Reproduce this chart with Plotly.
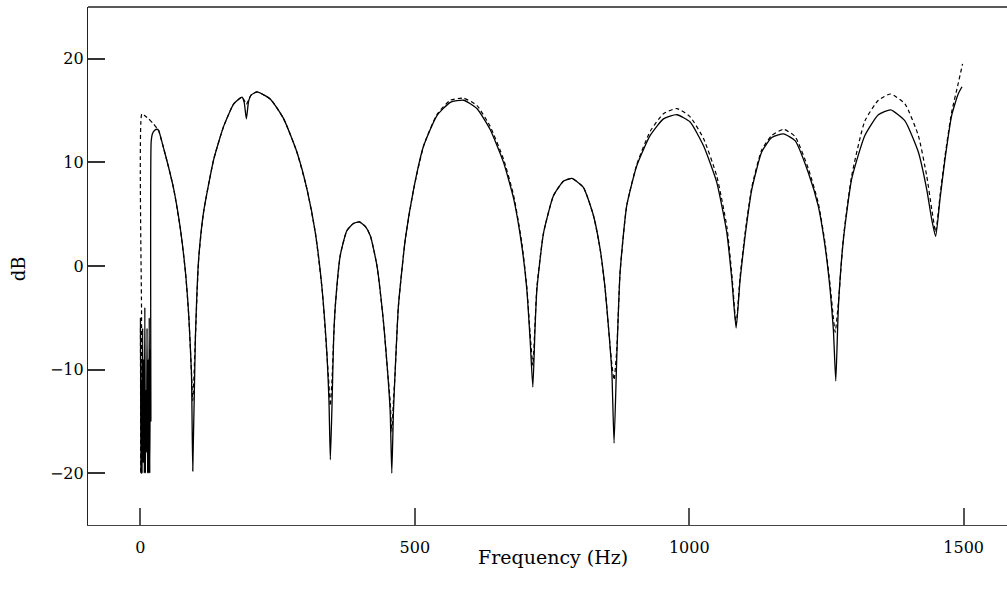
import plotly.graph_objects as go

# Frequency (Hz) and level (dB)
solid_hz = [0, 1, 2, 3, 4, 5, 6, 7, 8, 9, 10, 11, 12, 13, 14, 15, 16, 17, 18, 19, 19.5,
            22, 26, 30, 33, 42.5, 50, 60.7, 72.8, 82, 88, 92.9, 95.3, 100, 106, 115,
            133.5, 151.7, 170, 185, 189, 193, 197, 201.5, 212.5, 236.8, 261, 285, 303.5,
            318.7, 331, 340, 343.5, 346, 349, 352, 355, 364, 376, 388, 399, 410, 419,
            431, 443, 450.5, 455, 458, 461, 464, 470, 482.6, 497.7, 516, 540, 564.6,
            588.8, 613, 637, 661.6, 680, 695, 704, 710, 715, 719, 722.4, 734.5, 752.7,
            771, 786, 807, 825.5, 837.7, 846.8, 854.7, 859, 863, 868, 874, 886, 904.5,
            928.8, 953, 977.4, 1001.6, 1026, 1050, 1068.5, 1077.6, 1085.4, 1092.7,
            1102, 1114, 1132, 1150.4, 1171.6, 1192.8, 1217, 1235, 1247.5, 1256.6,
            1262.6, 1267, 1271.8, 1281, 1296, 1320, 1344.6, 1367, 1393, 1417.4,
            1432.7, 1441.8, 1449, 1457, 1466, 1478, 1490, 1497]
solid_db = [-5, -20, -11, -20, -6, -19, -9, -20, -4, -20, -12, -18, -6, -20, -9, -20, -5, -20, -8, -15, 12.0,
            12.8, 13.1, 13.2, 13.1, 11.3, 9.8, 7.4, 3.55, -0.6, -4.8, -10.3, -19.8, -7.1, 0.65, 5.2,
            10.3, 13.5, 15.65, 16.3, 15.8, 14.2, 15.9, 16.5, 16.8, 16.1, 14.2, 11.0, 7.4,
            3.2, -2.25, -8.7, -13.0, -18.7, -13.5, -7.0, -3.9, 1.0, 3.4, 4.1, 4.26, 3.8, 2.9,
            0.0, -5.5, -10.3, -14.0, -20.0, -14.0, -10.3, -3.9, 2.6, 7.4, 11.6, 14.5, 15.8,
            16.0, 15.2, 13.2, 10.0, 6.5, 1.9, -2.25, -7.1, -11.7, -6.0, -2.25, 3.2, 6.8,
            8.2, 8.45, 7.6, 4.85, 1.6, -2.25, -7.1, -10.3, -17.1, -8.7, -0.6, 5.8, 9.7,
            12.6, 14.2, 14.6, 13.9, 11.6, 8.1, 3.2, -1.3, -6.0, -1.3,
            3.0, 7.4, 11.0, 12.4, 12.75, 12.1, 9.0, 5.8, 1.9, -2.25,
            -6.1, -11.1, -3.9, 2.6, 8.4, 12.6, 14.6, 15.07, 14.0, 11.0,
            7.4, 4.5, 2.85, 6.5, 10.3, 14.5, 16.6, 17.3]

dashed_hz = [0, 0.5, 1, 1.5, 2, 2.5, 8, 15, 24, 30, 33, 42.5, 50, 60.7, 72.8, 82, 88, 92.9,
             95.3, 100, 106, 115, 133.5, 151.7, 170, 185, 189, 193, 197, 201.5, 212.5,
             236.8, 261, 285, 303.5, 318.7, 331, 340, 343.5, 346, 349, 352, 355, 364, 376,
             388, 399, 410, 419, 431, 443, 450.5, 455, 458, 461, 464, 470, 482.6, 497.7,
             516, 540, 564.6, 588.8, 613, 637, 661.6, 680, 695, 704, 710, 715, 719, 722.4,
             734.5, 752.7, 771, 786, 807, 825.5, 837.7, 846.8, 854.7, 859, 863, 868, 874,
             886, 904.5, 928.8, 953, 977.4, 1001.6, 1026, 1050, 1068.5, 1077.6, 1085.4,
             1092.7, 1102, 1114, 1132, 1150.4, 1171.6, 1192.8, 1217, 1235, 1247.5,
             1256.6, 1262.6, 1266, 1271.8, 1281, 1296, 1320, 1344.6, 1367, 1393, 1417.4,
             1432.7, 1441.8, 1449, 1457, 1466, 1478, 1490, 1498]
dashed_db = [-6, -20, -9, -20, -5, 14.7, 14.5, 14.2, 13.7, 13.3, 13.1, 11.3, 9.8, 7.4, 3.55, -0.6, -4.8, -10.3,
             -13.0, -7.1, 0.65, 5.2, 10.3, 13.5, 15.65, 16.3, 16.0, 15.6, 16.0, 16.5, 16.8,
             16.1, 14.2, 11.0, 7.4, 3.2, -2.25, -8.7, -11.5, -13.5, -11.0, -7.0, -3.9, 1.0, 3.4,
             4.1, 4.26, 3.8, 2.9, 0.0, -5.5, -10.3, -13.0, -16.0, -13.0, -10.3, -3.9, 2.6, 7.4,
             11.6, 14.6, 16.0, 16.2, 15.5, 13.5, 10.3, 6.8, 2.2, -2.0, -6.5, -9.6, -5.5, -2.0,
             3.2, 6.8, 8.2, 8.45, 7.6, 4.85, 1.6, -2.25, -7.1, -9.5, -11.0, -8.0, -0.6,
             5.8, 9.8, 13.0, 14.7, 15.2, 14.4, 12.3, 8.7, 3.8, -0.8, -5.6,
             -1.0, 3.3, 7.6, 11.2, 12.6, 13.2, 12.5, 9.4, 6.1, 2.2,
             -1.8, -5.0, -6.4, -3.5, 2.8, 8.7, 14.0, 16.0, 16.6, 15.65, 12.6,
             8.7, 5.5, 3.3, 6.8, 10.6, 14.8, 17.6, 19.5]

x_ticks = [0, 500, 1000, 1500]
y_ticks = [-20, -10, 0, 10, 20]

FONT = "DejaVu Serif"
LINE = "#444444"

fig = go.Figure()
fig.add_trace(go.Scatter(x=dashed_hz, y=dashed_db, mode="lines",
                         line=dict(color="black", width=1.2, dash="4px,3px",
                                   shape="spline", smoothing=0.5),
                         showlegend=False, hoverinfo="skip"))
fig.add_trace(go.Scatter(x=solid_hz, y=solid_db, mode="lines",
                         line=dict(color="black", width=1.3, shape="spline", smoothing=0.5),
                         showlegend=False, hoverinfo="skip"))

fig.update_layout(
    width=1007, height=596,
    margin=dict(l=88, r=0, t=7, b=71),
    paper_bgcolor="white", plot_bgcolor="white",
    font=dict(family=FONT, size=16, color="black"),
    xaxis=dict(range=[-95.6, 1579], tickvals=x_ticks, ticktext=[str(v) for v in x_ticks],
               showgrid=False, zeroline=False, showline=True, linecolor=LINE, linewidth=1.3,
               ticks="inside", ticklen=17, tickwidth=1.5, tickcolor="#555555",
               ticklabelstandoff=8,
               tickfont=dict(family=FONT, size=16, color="black")),
    yaxis=dict(range=[-25, 25], tickvals=y_ticks,
               ticktext=[("\u2212" + str(-v)) if v < 0 else str(v) for v in y_ticks],
               showgrid=False, zeroline=False, showline=True, linecolor="#222222", linewidth=1.3,
               ticks="inside", ticklen=17, tickwidth=1.5, tickcolor="#333333",
               tickfont=dict(family=FONT, size=16, color="black")),
    shapes=[dict(type="line", xref="paper", yref="paper", x0=0, x1=1, y0=1, y1=1,
                 line=dict(color="#222222", width=1.3))],
    annotations=[
        dict(text="Frequency (Hz)", xref="x", yref="paper", x=752, y=-0.062,
             xanchor="center", yanchor="middle", showarrow=False,
             font=dict(family=FONT, size=19, color="black")),
        dict(text="dB", xref="paper", yref="y", x=-0.076, y=-0.3, textangle=-90,
             xanchor="center", yanchor="middle", showarrow=False,
             font=dict(family=FONT, size=18, color="black")),
    ],
)

fig.write_html("out.html", config={"displayModeBar": False},
               post_script="document.body.style.margin='0';document.body.style.overflow='hidden';")
